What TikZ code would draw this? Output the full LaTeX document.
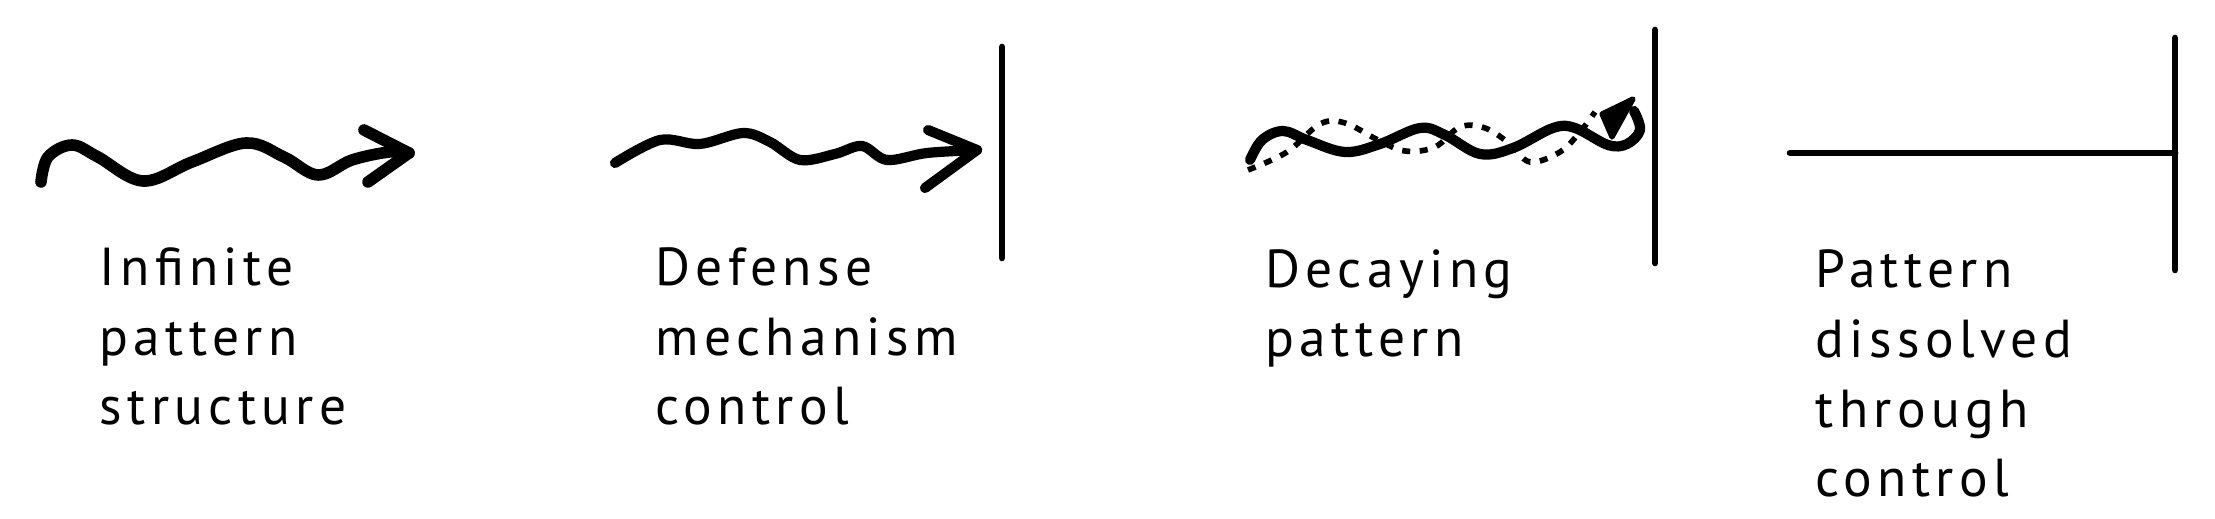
\documentclass[tikz,border=0pt]{standalone}
\usepackage{fontspec}
\setmainfont[LetterSpace=10]{PT Sans}
\usepackage{xcolor}

\tikzset{
	wave/.style={line width=3.3pt, line cap=round, line join=round},
	barb/.style={line width=3.3pt, line cap=round, line join=round},
	wall/.style={line width=1.9pt, line cap=round},
	ghost/.style={line width=1.6pt, dash pattern=on 2.3pt off 2.7pt},
	caption/.style={anchor=base west, inner sep=0pt, align=left, font=\fontsize{15.2pt}{19.9pt}\selectfont}
}

\begin{document}
\begin{tikzpicture}[x=0.01cm, y=-0.01cm]
	\useasboundingbox (0,0) rectangle (2215,519);

	% infinite pattern
	\draw[wave] plot[smooth, tension=0.6] coordinates {(41,182) (48,157) (72,145) (98,157) (143,181) (192,162) (246,143) (284,157) (318,175) (352,160) (389,152) (409,153)};
	\draw[barb] (364,130) -- (409,153) -- (368,182);

	% defense mechanism
	\draw[wave, line width=2.9pt] plot[smooth, tension=0.55] coordinates {(615,163) (660,140) (700,144) (743,133) (770,142) (800,160) (835,154) (862,146) (887,160) (927,153) (977,150)};
	\draw[barb, line width=2.9pt] (928,130) -- (977,150) -- (925,188);
	\draw[wall] (1002,47) -- (1002,258);

	% decaying pattern
	\draw[ghost] plot[smooth, tension=0.6] coordinates {(1248,170) (1287,152) (1320,124) (1345,123) (1378,140) (1405,151) (1435,147) (1460,127) (1485,128) (1510,144) (1530,162) (1560,152) (1580,132) (1595,112)};
	\draw[wave, line width=2.9pt] plot[smooth, tension=0.6] coordinates {(1250,160) (1262,140) (1283,131) (1307,140) (1345,152) (1380,144) (1420,128) (1445,135) (1480,154) (1513,148) (1553,128) (1575,128) (1608,145) (1627,144) (1640,130) (1634,111)};
	\filldraw[line join=round, line width=1.5pt] (1633,99) -- (1602,114) -- (1612,137) -- cycle;
	\draw[wall] (1655,30) -- (1655,263);

	% dissolved pattern
	\draw[wall] (1790,153) -- (2175,153);
	\draw[wall] (2175,38) -- (2175,270);

	\node[caption] (infinite) at (99,425) {Infinite\\pattern\\structure};
	\node[caption] (defense) at (655,425) {Defense\\mechanism\\control};
	\node[caption] (decaying) at (1265,357) {Decaying\\pattern};
	\node[caption] (dissolved) at (1815,497) {Pattern\\dissolved\\through\\control};

\end{tikzpicture}
\end{document}
